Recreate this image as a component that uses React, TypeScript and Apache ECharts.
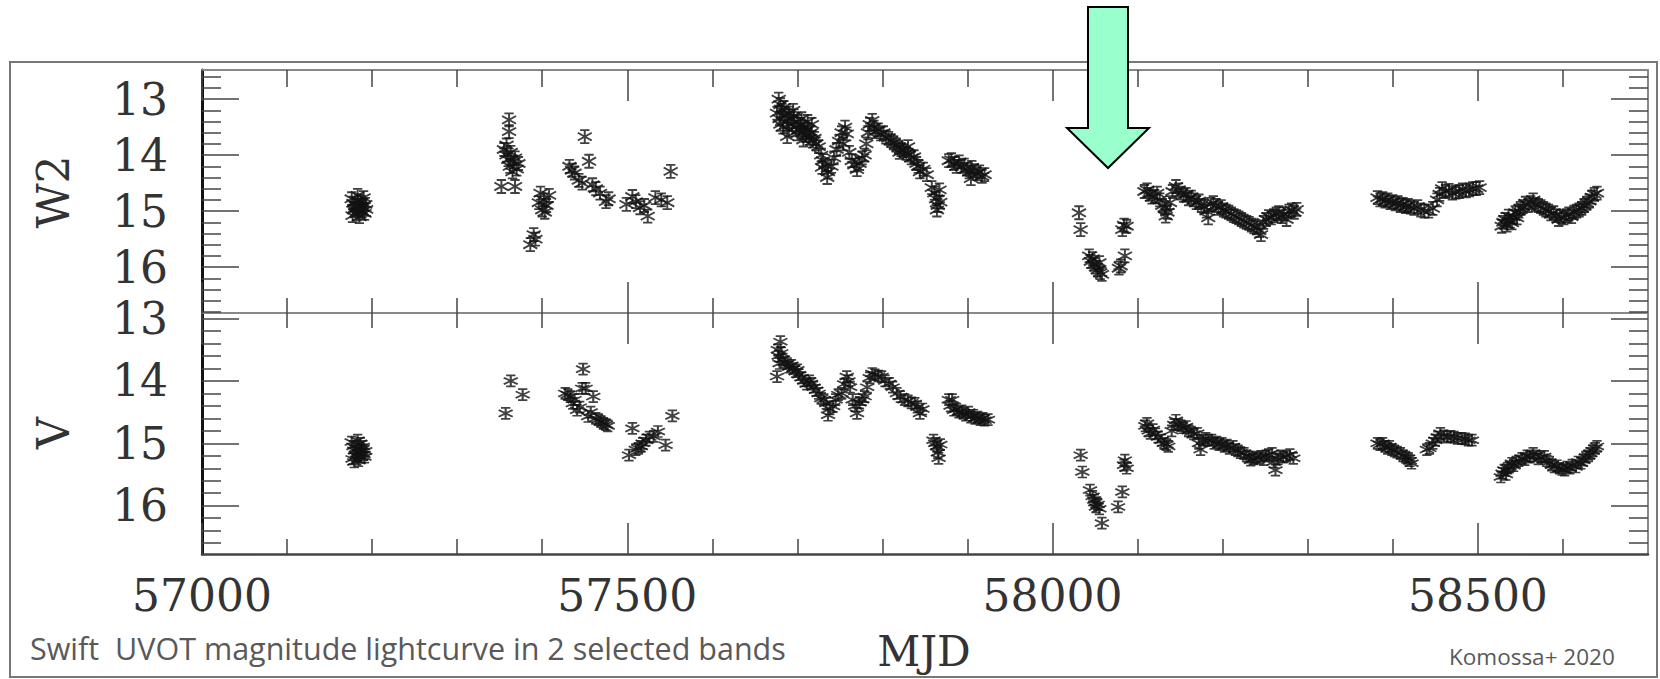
import React, { useEffect, useRef } from "react";
import * as echarts from "echarts";

// ---- axis ranges and ticks ----
const xMin = 57000;
const xMax = 58700;
const xMajorTicks = [57000, 57500, 58000, 58500];
const xMinorTicks = [57100, 57200, 57300, 57400, 57600, 57700, 57800, 57900, 58100, 58200, 58300, 58400, 58600];
const yMajorTicks = [13, 14, 15, 16];
const w2Range = [12.48, 16.82];
const vRange = [12.91, 16.775];
const w2MinorTicks = [12.6, 12.8, 13.2, 13.4, 13.6, 13.8, 14.2, 14.4, 14.6, 14.8, 15.2, 15.4, 15.6, 15.8, 16.2, 16.4, 16.6, 16.8];
const vMinorTicks = [13.2, 13.4, 13.6, 13.8, 14.2, 14.4, 14.6, 14.8, 15.2, 15.4, 15.6, 15.8, 16.2, 16.4, 16.6];

// ---- Swift UVOT W2 band: [MJD, magnitude] ----
const w2Points: [number, number][] = [
  [57176,14.78],[57178,14.86],[57180,14.95],[57182,15.05],[57184,14.82],[57186,14.9],[57188,15.0],[57190,14.76],[57192,14.88],
  [57177,15.08],[57185,15.1],[57189,14.93],[57183,14.72],[57191,15.04],[57179,14.98],[57187,14.84],[57181,14.9],[57193,14.97],
  [57361,13.37],[57361,13.58],[57355,13.9],[57358,14.0],[57360,14.08],[57363,13.95],[57366,14.12],[57362,14.2],[57365,14.3],
  [57368,14.05],[57372,14.15],[57358,13.82],[57352,14.56],[57368,14.56],[57370,14.25],
  [57390,15.42],[57386,15.6],[57392,15.5],
  [57398,14.68],[57402,14.8],[57405,14.9],[57400,14.98],[57408,14.72],[57403,15.02],[57396,14.85],
  [57432,14.2],[57435,14.27],[57438,14.32],[57443,14.45],[57447,14.5],[57450,13.67],[57455,14.11],[57459,14.53],[57463,14.6],
  [57468,14.68],[57475,14.83],[57478,14.78],[57499,14.88],[57506,14.74],[57510,14.83],[57515,14.94],[57524,15.09],[57520,14.9],
  [57533,14.76],[57540,14.8],[57547,14.85],[57551,14.29],
  [57678,13.0],[57680,13.1],[57682,13.2],[57676,13.25],[57679,13.35],[57684,13.15],[57686,13.3],[57688,13.4],[57690,13.25],
  [57692,13.35],[57694,13.45],[57696,13.3],[57698,13.5],[57700,13.4],[57702,13.55],[57704,13.45],[57706,13.6],[57708,13.5],
  [57710,13.65],[57712,13.55],[57714,13.7],[57716,13.6],[57718,13.75],[57720,13.7],[57688,13.67],[57707,13.73],
  [57683,13.5],[57690,13.55],[57695,13.2],[57700,13.62],[57705,13.35],[57712,13.4],[57717,13.45],[57680,13.45],
  [57722,13.8],[57725,13.85],[57728,14.0],[57730,14.1],[57733,14.18],[57736,14.3],[57729,14.22],[57735,14.4],[57740,14.2],[57743,14.05],
  [57746,13.9],[57749,13.75],[57752,13.6],[57756,13.5],[57758,13.62],[57754,13.8],
  [57761,13.95],[57764,14.1],[57767,14.18],[57770,14.26],[57773,14.15],[57776,14.05],[57779,14.0],
  [57781,13.8],[57783,13.6],[57785,13.45],[57788,13.38],[57790,13.5],[57792,13.58],[57795,13.55],[57798,13.62],[57801,13.6],
  [57804,13.68],[57807,13.7],[57810,13.74],[57813,13.78],[57816,13.82],[57819,13.86],[57822,13.9],[57825,13.92],[57828,13.97],
  [57831,14.0],[57834,14.05],[57837,14.03],[57840,14.15],[57842,14.2],[57844,14.3],[57830,13.85],[57820,13.95],[57848,14.25],[57852,14.35],
  [57858,14.58],[57861,14.68],[57863,14.78],[57865,14.9],[57864,14.98],[57868,14.84],[57867,14.62],
  [57878,14.1],[57881,14.08],[57884,14.15],[57887,14.2],[57890,14.12],[57893,14.2],[57896,14.18],[57899,14.25],[57902,14.3],
  [57905,14.22],[57908,14.28],[57911,14.33],[57914,14.3],[57917,14.38],[57920,14.35],[57904,14.42],
  [58031,15.03],[58033,15.33],[58043,15.8],[58045,15.9],[58047,15.85],[58049,15.95],[58051,16.0],[58053,16.05],[58056,16.1],
  [58058,16.13],[58055,15.92],[58080,15.98],[58085,15.8],[58082,15.33],[58087,15.27],[58084,15.25],[58078,16.02],
  [58108,14.65],[58111,14.62],[58114,14.7],[58117,14.75],[58120,14.74],[58123,14.68],[58126,14.8],[58129,14.9],[58132,14.94],
  [58133,15.09],[58135,15.02],[58138,14.85],[58141,14.65],[58145,14.56],[58148,14.62],[58151,14.68],[58154,14.72],[58157,14.7],
  [58160,14.78],[58163,14.75],[58166,14.8],[58169,14.85],[58172,14.82],[58175,14.9],[58178,14.92],[58181,15.0],[58183,15.12],
  [58186,14.88],[58189,14.85],[58192,14.9],[58195,14.95],[58198,14.92],[58201,14.98],[58204,15.0],[58207,15.02],[58210,15.05],
  [58213,15.08],[58216,15.1],[58219,15.12],[58222,15.15],[58225,15.18],[58228,15.2],[58231,15.22],[58234,15.25],[58237,15.28],
  [58240,15.3],[58243,15.35],[58245,15.42],[58248,15.2],[58251,15.15],[58254,15.1],[58257,15.12],[58260,15.08],[58263,15.05],
  [58266,15.03],[58269,15.1],[58272,15.05],[58275,15.15],[58278,15.0],[58281,14.98],[58284,15.02],[58287,14.97],
  [58382,14.76],[58385,14.8],[58388,14.78],[58391,14.82],[58394,14.8],[58397,14.85],[58400,14.83],[58403,14.87],[58406,14.85],
  [58409,14.9],[58412,14.88],[58415,14.92],[58418,14.9],[58421,14.93],[58425,14.95],[58429,14.92],[58433,14.98],[58437,15.0],
  [58442,15.0],[58447,14.95],[58452,14.8],[58455,14.7],[58458,14.6],[58462,14.65],[58466,14.63],[58470,14.68],[58474,14.66],
  [58478,14.65],[58482,14.62],[58486,14.64],[58490,14.62],[58494,14.6],[58498,14.6],[58502,14.58],
  [58528,15.27],[58530,15.2],[58532,15.15],[58534,15.25],[58536,15.09],[58538,15.18],[58540,15.21],[58542,15.1],[58544,15.03],
  [58546,15.12],[58548,15.0],[58550,14.95],[58553,14.92],[58556,14.86],[58559,14.9],[58562,14.85],[58565,14.8],[58568,14.88],
  [58571,14.9],[58574,14.92],[58577,14.95],[58580,14.98],[58583,15.0],[58586,15.05],[58589,15.03],[58592,15.08],[58595,15.15],
  [58598,15.1],[58601,15.12],[58604,15.08],[58607,15.05],[58610,15.1],[58613,15.02],[58616,15.0],[58619,14.98],[58622,14.95],
  [58625,14.9],[58628,14.86],[58631,14.82],[58634,14.75],[58637,14.7],[58640,14.68],
];

// ---- Swift UVOT V band: [MJD, magnitude] ----
const vPoints: [number, number][] = [
  [57176,14.98],[57178,15.05],[57180,15.12],[57182,15.2],[57184,15.28],[57186,15.0],[57188,15.1],[57190,15.18],[57177,15.25],
  [57185,15.15],[57189,15.05],[57183,14.95],[57191,15.22],[57179,15.3],[57187,15.22],[57181,15.08],[57192,15.12],
  [57357,14.52],[57363,14.0],[57377,14.22],
  [57427,14.2],[57430,14.22],[57433,14.25],[57436,14.36],[57438,14.3],[57441,14.47],[57444,14.42],[57447,14.12],[57448,13.81],
  [57451,14.12],[57454,14.57],[57457,14.5],[57460,14.25],[57463,14.6],[57466,14.62],[57469,14.65],[57472,14.68],[57475,14.7],[57477,14.72],
  [57502,15.19],[57506,14.76],[57510,15.1],[57513,15.08],[57516,15.05],[57518,15.0],[57522,14.95],[57526,14.9],[57531,14.89],
  [57536,14.81],[57545,15.03],[57553,14.56],
  [57676,13.93],[57677,13.5],[57678,13.6],[57679,13.72],[57680,13.37],[57681,13.55],[57683,13.65],[57685,13.7],[57688,13.72],
  [57690,13.78],[57693,13.75],[57695,13.8],[57698,13.85],[57700,13.82],[57702,13.9],[57705,13.95],[57708,14.0],[57711,14.05],
  [57714,14.0],[57716,14.04],[57719,14.1],[57722,14.15],[57725,14.2],[57728,14.28],[57731,14.3],[57734,14.36],[57736,14.55],
  [57738,14.45],[57742,14.41],[57745,14.3],[57748,14.22],[57752,14.2],[57755,14.05],[57758,13.93],[57760,14.0],[57762,14.1],
  [57765,14.3],[57768,14.4],[57770,14.52],[57773,14.35],[57776,14.3],[57779,14.25],[57782,14.1],[57785,13.95],[57788,13.88],
  [57791,13.9],[57795,13.92],[57799,13.93],[57803,14.0],[57808,14.04],[57812,14.1],[57817,14.2],[57821,14.25],[57826,14.3],
  [57830,14.32],[57834,14.35],[57838,14.36],[57841,14.42],[57844,14.52],[57847,14.45],
  [57860,14.95],[57862,15.0],[57864,15.05],[57865,15.15],[57866,15.24],[57868,15.02],
  [57878,14.3],[57880,14.4],[57882,14.3],[57884,14.47],[57887,14.45],[57890,14.5],[57893,14.48],[57895,14.52],[57898,14.55],
  [57901,14.5],[57904,14.58],[57907,14.55],[57909,14.6],[57912,14.58],[57915,14.62],[57918,14.6],[57920,14.63],[57924,14.62],
  [58033,15.19],[58035,15.46],[58044,15.75],[58047,15.85],[58049,15.91],[58050,15.95],[58051,16.02],[58053,15.98],[58055,16.05],
  [58058,16.28],[58077,16.02],[58082,15.78],[58085,15.27],[58087,15.4],[58084,15.35],
  [58109,14.72],[58111,14.68],[58113,14.8],[58115,14.84],[58118,14.78],[58121,14.85],[58124,14.9],[58128,14.95],[58131,15.0],
  [58134,15.02],[58136,15.05],[58140,14.8],[58143,14.7],[58145,14.63],[58148,14.7],[58151,14.72],[58154,14.75],[58157,14.73],
  [58160,14.8],[58163,14.82],[58166,14.85],[58170,14.84],[58172,15.0],[58174,15.1],[58177,14.95],[58180,14.92],[58183,14.95],
  [58187,14.95],[58190,15.0],[58193,14.98],[58196,15.02],[58199,15.0],[58202,15.05],[58205,15.03],[58208,15.08],[58212,15.05],
  [58215,15.1],[58218,15.12],[58221,15.15],[58225,15.16],[58228,15.2],[58231,15.22],[58233,15.27],[58236,15.25],[58239,15.22],
  [58242,15.24],[58245,15.21],[58248,15.26],[58251,15.2],[58254,15.18],[58258,15.16],[58260,15.3],[58262,15.43],[58265,15.25],
  [58268,15.2],[58271,15.22],[58275,15.21],[58279,15.18],[58283,15.24],
  [58382,15.0],[58385,15.02],[58388,15.0],[58391,15.05],[58394,15.08],[58396,15.05],[58399,15.1],[58402,15.12],[58405,15.14],
  [58409,15.16],[58412,15.2],[58415,15.22],[58418,15.24],[58420,15.28],[58422,15.32],[58440,15.1],[58443,15.08],[58447,15.0],
  [58450,14.95],[58453,14.9],[58456,14.84],[58460,14.88],[58464,14.9],[58468,14.89],[58472,14.9],[58476,14.92],[58481,14.92],
  [58485,14.93],[58489,14.95],[58493,14.95],
  [58527,15.54],[58529,15.48],[58531,15.43],[58533,15.5],[58535,15.4],[58537,15.38],[58540,15.32],[58542,15.36],[58545,15.3],
  [58548,15.28],[58552,15.24],[58555,15.26],[58558,15.2],[58561,15.22],[58565,15.16],[58568,15.2],[58571,15.25],[58574,15.22],
  [58578,15.21],[58581,15.28],[58584,15.3],[58587,15.35],[58590,15.38],[58593,15.36],[58596,15.4],[58599,15.42],[58602,15.43],
  [58605,15.38],[58608,15.4],[58611,15.35],[58615,15.38],[58618,15.3],[58621,15.32],[58624,15.27],[58627,15.22],[58630,15.2],
  [58632,15.16],[58635,15.12],[58638,15.08],[58640,15.05],
];

const SERIF = "'DejaVu Serif', 'Liberation Serif', serif";
const SANS = "'Open Sans', Lato, sans-serif";
const MARKER = "path://M2,0L10,0M6,0L6,10M2,10L10,10M0,2L12,8M12,2L0,8";

function xAx(gridIndex: number, position: string, ticks: number[], len: number, line: any, labels: boolean) {
  return {
    type: "value",
    gridIndex,
    position,
    min: xMin,
    max: xMax,
    axisLine: line ? { show: true, onZero: false, lineStyle: line } : { show: false },
    axisTick: { show: true, inside: true, length: len, customValues: ticks, lineStyle: { color: "#444", width: 1.5 } },
    axisLabel: labels
      ? {
          show: true,
          customValues: xMajorTicks,
          formatter: (v: number) => String(v),
          fontFamily: SERIF,
          fontSize: 44,
          color: "#333",
          margin: 19,
        }
      : { show: false },
    splitLine: { show: false },
  };
}

function yAx(gridIndex: number, position: string, range: number[], ticks: number[], len: number, line: any, labels: boolean) {
  return {
    type: "value",
    gridIndex,
    position,
    inverse: true,
    min: range[0],
    max: range[1],
    axisLine: line ? { show: true, onZero: false, lineStyle: line } : { show: false },
    axisTick: { show: true, inside: true, length: len, customValues: ticks, lineStyle: { color: "#444", width: 1.5 } },
    axisLabel: labels
      ? {
          show: true,
          customValues: yMajorTicks,
          formatter: (v: number) => String(v),
          fontFamily: SERIF,
          fontSize: 44,
          color: "#333",
          margin: 34,
        }
      : { show: false },
    splitLine: { show: false },
  };
}

function txt(x: number, y: number, text: string, font: string, fill: string, align: string, rotation = 0) {
  return {
    type: "text",
    x,
    y,
    rotation,
    z: 20,
    style: {
      text,
      x: 0,
      y: 0,
      font,
      fill,
      align,
      textAlign: align,
      verticalAlign: "middle",
      textVerticalAlign: "middle",
    },
  };
}

export default function App() {
  const ref = useRef<HTMLDivElement>(null);
  useEffect(() => {
    if (!ref.current) return;
    const chart = echarts.init(ref.current, undefined, { renderer: "svg" });
    const axisDark = { color: "#111", width: 3 };
    const axisGray = { color: "#888", width: 2 };
    const axisBottom = { color: "#444", width: 2.5 };
    chart.setOption({
      animation: false,
      backgroundColor: "#fff",
      grid: [
        { left: 202, top: 70, width: 1446, height: 243 },
        { left: 202, top: 313, width: 1446, height: 241 },
      ],
      xAxis: [
        xAx(0, "bottom", xMinorTicks, 15, axisGray, false),
        xAx(0, "bottom", xMajorTicks, 31, null, false),
        xAx(0, "top", xMinorTicks, 17, axisGray, false),
        xAx(0, "top", xMajorTicks, 31, null, false),
        xAx(1, "top", xMinorTicks, 15, null, false),
        xAx(1, "top", xMajorTicks, 31, null, false),
        xAx(1, "bottom", xMinorTicks, 15, axisBottom, false),
        xAx(1, "bottom", xMajorTicks, 31, null, true),
      ],
      yAxis: [
        yAx(0, "left", w2Range, w2MinorTicks, 19, axisDark, false),
        yAx(0, "left", w2Range, yMajorTicks, 37, null, true),
        yAx(0, "right", w2Range, w2MinorTicks, 19, axisGray, false),
        yAx(0, "right", w2Range, yMajorTicks, 37, null, false),
        yAx(1, "left", vRange, vMinorTicks, 19, axisDark, false),
        yAx(1, "left", vRange, yMajorTicks, 37, null, true),
        yAx(1, "right", vRange, vMinorTicks, 19, axisGray, false),
        yAx(1, "right", vRange, yMajorTicks, 37, null, false),
      ],
      series: [
        {
          type: "scatter",
          name: "W2",
          xAxisIndex: 0,
          yAxisIndex: 0,
          data: w2Points,
          symbol: MARKER,
          symbolSize: [14, 13],
          itemStyle: { color: "rgba(0,0,0,0)", borderColor: "#111", borderWidth: 1.9 },
          silent: true,
        },
        {
          type: "scatter",
          name: "V",
          xAxisIndex: 4,
          yAxisIndex: 4,
          data: vPoints,
          symbol: MARKER,
          symbolSize: [14, 11],
          itemStyle: { color: "rgba(0,0,0,0)", borderColor: "#111", borderWidth: 1.9 },
          silent: true,
        },
      ],
      graphic: [
        {
          type: "rect",
          z: 15,
          shape: { x: 10, y: 62, width: 1647, height: 615 },
          style: { fill: "none", stroke: "#777", lineWidth: 2 },
        },
        {
          type: "polygon",
          z: 30,
          shape: {
            points: [
              [1088, 7], [1128, 7], [1128, 128], [1149, 128], [1108, 168], [1067, 128], [1088, 128],
            ],
          },
          style: { fill: "#99FFCC", stroke: "#000", lineWidth: 2 },
        },
        txt(53, 192, "W2", `44px ${SERIF}`, "#333", "center", Math.PI / 2),
        txt(53, 433, "V", `44px ${SERIF}`, "#333", "center", Math.PI / 2),
        txt(924, 651, "MJD", `42px ${SERIF}`, "#333", "center"),
        txt(30, 648, "Swift  UVOT magnitude lightcurve in 2 selected bands", `30.5px ${SANS}`, "#595959", "left"),
        txt(1449, 656, "Komossa+ 2020", `22.5px ${SANS}`, "#595959", "left"),
      ],
    });
    return () => chart.dispose();
  }, []);
  return (
    <div
      ref={ref}
      style={{ position: "absolute", left: 0, top: 0, width: 1660, height: 679, background: "#fff" }}
    />
  );
}
